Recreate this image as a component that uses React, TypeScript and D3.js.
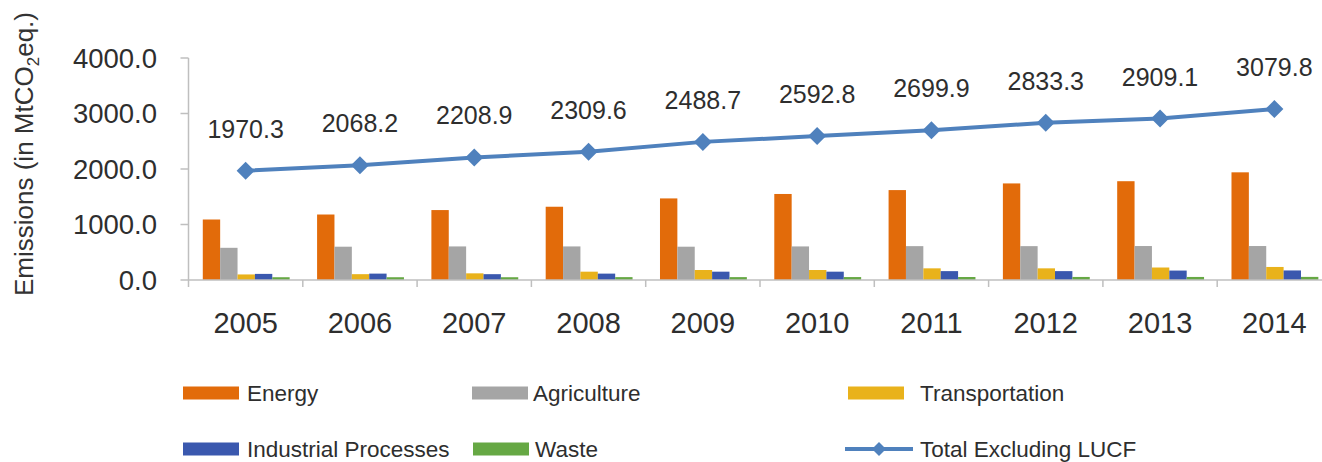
import React from "react";
import * as d3 from "d3";

const years = ["2005", "2006", "2007", "2008", "2009", "2010", "2011", "2012", "2013", "2014"];
const energy = [1090, 1180, 1260, 1320, 1470, 1550, 1620, 1740, 1780, 1940];
const agriculture = [580, 600, 605, 605, 600, 605, 610, 610, 612, 612];
const transportation = [100, 105, 120, 150, 180, 180, 210, 210, 225, 235];
const industrial = [110, 115, 105, 115, 150, 150, 160, 160, 170, 172];
const waste = [50, 50, 50, 52, 52, 53, 54, 55, 55, 56];
const total = [1970.3, 2068.2, 2208.9, 2309.6, 2488.7, 2592.8, 2699.9, 2833.3, 2909.1, 3079.8];
const yTicks = [0, 1000, 2000, 3000, 4000];

const seriesNames = ["Energy", "Agriculture", "Transportation", "Industrial Processes", "Waste"];
const seriesData = [energy, agriculture, transportation, industrial, waste];
const seriesColors = ["#E26B0A", "#A5A5A5", "#E9B21B", "#3A58AE", "#66A844"];
const lineColor = "#4F81BD";

const W = 1322;
const H = 462;
const left = 188.5;
const bandW = 114.3;
const top = 58;
const bottom = 280;

export default function App() {
  const x = d3
    .scaleBand<string>()
    .domain(years)
    .range([left, left + bandW * years.length])
    .paddingInner(0)
    .paddingOuter(0);
  const y = d3.scaleLinear().domain([0, 4000]).range([bottom, top]);
  const inner = d3
    .scaleBand<string>()
    .domain(seriesNames)
    .range([bandW * 0.125, bandW * 0.885])
    .padding(0);
  const fmt = d3.format(".1f");
  const diamond = (s: number) => `M0,${-s}L${s},0L0,${s}L${-s},0Z`;
  const line = d3
    .line<number>()
    .x((_, i) => (x(years[i]) as number) + x.bandwidth() / 2)
    .y((d) => y(d));

  const font = "'Liberation Sans', Arial, sans-serif";
  const textColor = "#2e2e2e";

  const legendItems = [
    { name: "Energy", color: seriesColors[0], sx: 183, tx: 247, row: 0, type: "bar" },
    { name: "Agriculture", color: seriesColors[1], sx: 472, tx: 533, row: 0, type: "bar" },
    { name: "Transportation", color: seriesColors[2], sx: 848, tx: 920, row: 0, type: "bar" },
    { name: "Industrial Processes", color: seriesColors[3], sx: 183, tx: 247, row: 1, type: "bar" },
    { name: "Waste", color: seriesColors[4], sx: 473, tx: 535, row: 1, type: "bar" },
    { name: "Total Excluding LUCF", color: lineColor, sx: 845, tx: 920, row: 1, type: "line" },
  ];
  const rowY = [393, 449];

  return (
    <svg
      width={W}
      height={H}
      style={{ position: "absolute", left: 0, top: 0, background: "#fff" }}
      fontFamily={font}
    >
      {/* y axis label */}
      <text
        transform={`translate(33,154) rotate(-90)`}
        textAnchor="middle"
        fontSize={26}
        fill="#333"
      >
        Emissions (in MtCO
        <tspan fontSize={17} dy={6}>2</tspan>
        <tspan dy={-6}>eq.)</tspan>
      </text>

      {/* y axis */}
      <line x1={left} x2={left} y1={y(4000)} y2={y(0)} stroke="#BFBFBF" strokeWidth={1.5} />
      {yTicks.map((t) => (
        <g key={t}>
          <line x1={left - 8} x2={left} y1={y(t)} y2={y(t)} stroke="#BFBFBF" strokeWidth={1.5} />
          <text
            x={157}
            y={y(t)}
            dy="0.35em"
            textAnchor="end"
            fontSize={27.5}
            fill={textColor}
          >
            {fmt(t)}
          </text>
        </g>
      ))}

      {/* bars */}
      {years.map((yr, i) => (
        <g key={yr} transform={`translate(${x(yr)},0)`}>
          {seriesNames.map((s, j) => (
            <rect
              key={s}
              x={inner(s)}
              width={inner.bandwidth()}
              y={y(seriesData[j][i])}
              height={y(0) - y(seriesData[j][i])}
              fill={seriesColors[j]}
            />
          ))}
        </g>
      ))}

      {/* x axis */}
      <line x1={left} x2={left + bandW * years.length} y1={y(0)} y2={y(0)} stroke="#BFBFBF" strokeWidth={1.5} />
      {d3.range(years.length + 1).map((i) => (
        <line
          key={i}
          x1={left + bandW * i}
          x2={left + bandW * i}
          y1={y(0)}
          y2={y(0) + 7}
          stroke="#BFBFBF"
          strokeWidth={1.5}
        />
      ))}
      {years.map((yr) => (
        <text
          key={yr}
          x={(x(yr) as number) + x.bandwidth() / 2}
          y={333}
          textAnchor="middle"
          fontSize={29}
          fill={textColor}
        >
          {yr}
        </text>
      ))}

      {/* total line */}
      <path d={line(total) || ""} fill="none" stroke={lineColor} strokeWidth={4} />
      {total.map((v, i) => {
        const cx = (x(years[i]) as number) + x.bandwidth() / 2;
        return (
          <g key={i}>
            <path d={diamond(9)} transform={`translate(${cx},${y(v)})`} fill={lineColor} />
            <text
              x={cx}
              y={y(v) - 33}
              textAnchor="middle"
              fontSize={25}
              fill={textColor}
            >
              {fmt(v)}
            </text>
          </g>
        );
      })}

      {/* legend */}
      {legendItems.map((it) => (
        <g key={it.name}>
          {it.type === "bar" ? (
            <rect x={it.sx} y={rowY[it.row] - 6.5} width={56} height={13} fill={it.color} />
          ) : (
            <g>
              <line
                x1={it.sx}
                x2={it.sx + 68}
                y1={rowY[it.row]}
                y2={rowY[it.row]}
                stroke={it.color}
                strokeWidth={4}
              />
              <path d={diamond(7)} transform={`translate(${it.sx + 34},${rowY[it.row]})`} fill={it.color} />
            </g>
          )}
          <text x={it.tx} y={rowY[it.row] + 8} fontSize={22.5} fill={textColor}>
            {it.name}
          </text>
        </g>
      ))}
    </svg>
  );
}
